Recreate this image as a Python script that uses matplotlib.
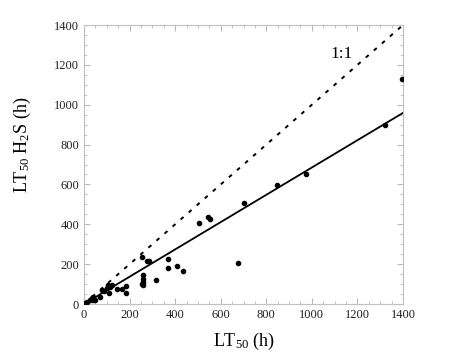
import matplotlib
matplotlib.use("Agg")
import matplotlib.pyplot as plt
import numpy as np
from matplotlib.ticker import MultipleLocator

plt.rcParams['font.family'] = ['Liberation Serif', 'DejaVu Serif']
plt.rcParams['mathtext.fontset'] = 'custom'
plt.rcParams['mathtext.rm'] = 'Liberation Serif'
plt.rcParams['mathtext.it'] = 'Liberation Serif:italic'

lt50 = [1395, 1320, 975, 845, 704, 676, 546, 553, 506, 369, 369, 410, 436, 316,
        253, 275, 287, 260, 260, 260, 260, 253, 184, 184, 165, 146, 121, 107,
        114, 100, 111, 88, 77, 70, 41, 34, 41, 26, 12, 4, 2, 48]
lt50_h2s = [1127, 900, 652, 598, 507, 207, 438, 425, 406, 227, 179, 191, 167, 120,
            237, 214, 214, 146, 128, 112, 95, 100, 54, 90, 74, 74, 95, 95,
            87, 79, 57, 67, 70, 37, 37, 28, 20, 20, 11, 3, 2, 22]
fit_slope = 0.685
fit_intercept = 0.0
xlim = (0, 1400)
ylim = (0, 1400)

fig = plt.figure(figsize=(4.5, 3.64), dpi=100)
ax = fig.add_axes([0.1867, 0.1648, 0.7089, 0.7665])

xs = np.array(xlim)
ax.plot(xs, xs, linestyle=(0, (2, 3.5)), color='black', lw=1.4)
ax.plot(xs, fit_slope * xs + fit_intercept, color='black', lw=1.3)
ax.scatter(lt50, lt50_h2s, s=9, color='black', zorder=3)

ax.text(1130, 1255, '1:1', fontsize=12.5, ha='center', va='center')

ax.set_xlim(*xlim)
ax.set_ylim(*ylim)
ax.xaxis.set_major_locator(MultipleLocator(200))
ax.yaxis.set_major_locator(MultipleLocator(200))
ax.xaxis.set_minor_locator(MultipleLocator(50))
ax.yaxis.set_minor_locator(MultipleLocator(50))
ax.tick_params(which='both', direction='in', top=True, right=True, color='#b8b8b8',
               labelsize=9, labelcolor='#222222')
ax.tick_params(which='major', length=4, width=0.8)
ax.tick_params(which='minor', length=2, width=0.6)
for s in ax.spines.values():
    s.set_color('#c0c0c0')
    s.set_linewidth(0.8)

ax.set_xlabel(r'LT$_{50}$ (h)', fontsize=13, labelpad=7)
ax.set_ylabel(r'LT$_{50}$ H$_2$S (h)', fontsize=13)
ax.yaxis.set_label_coords(-0.16, 0.57)

fig.savefig('out.png', dpi=100)
